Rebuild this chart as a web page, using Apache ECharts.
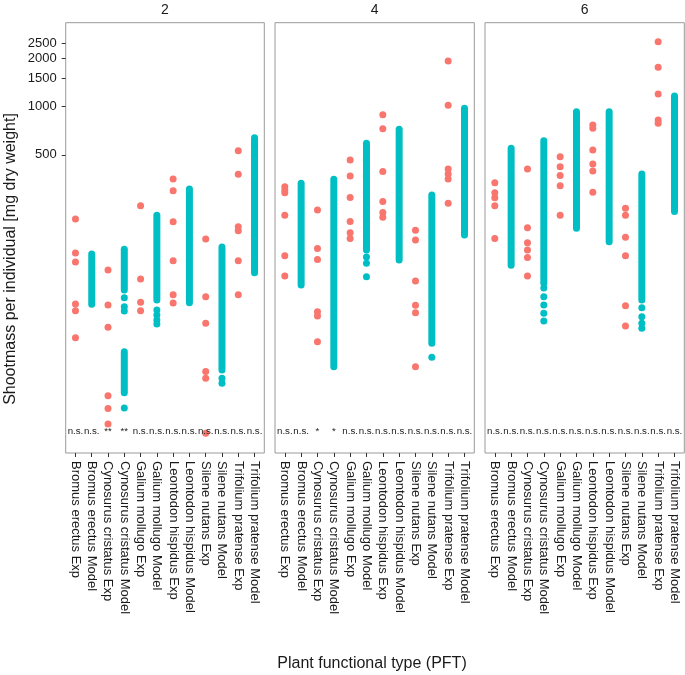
<!DOCTYPE html>
<html><head><meta charset="utf-8">
<script src="https://cdn.jsdelivr.net/npm/echarts@6/dist/echarts.min.js"></script>
<style>html,body{margin:0;padding:0;background:#fff}#c{width:685px;height:675px}</style>
</head><body><div id="c"></div>
<script>
// ---------- data ----------
const categories = [
  'Bromus erectus Exp','Bromus erectus Model',
  'Cynosurus cristatus Exp','Cynosurus cristatus Model',
  'Galium mollugo Exp','Galium mollugo Model',
  'Leontodon hispidus Exp','Leontodon hispidus Model',
  'Silene nutans Exp','Silene nutans Model',
  'Trifolium pratense Exp','Trifolium pratense Model'
];
const facetLabels = ['2','4','6'];
const yTickValues = [500, 1000, 1500, 2000, 2500];

// Experimental observations per species (Exp category), facet 2
const expF2 = [
  [199, 122, 107, 58.5, 53, 36],
  [95.3, 57.7, 41.8, 15.6, 13.0, 10.4],
  [240, 83.8, 59.9, 53.1],
  [353, 298, 191, 109, 66.8, 59.3],
  [149, 64.9, 44.3, 22.1, 20.1, 9.1],
  [531, 378, 178, 168, 109, 66.8]
];
// Model runs: dense ranges [low, high] and separate points, facet 2
const modelSegF2 = [
  [[58.2, 120]],
  [[71.5, 128.5], [16.3, 29.4]],
  [[61.9, 210]],
  [[59.6, 306]],
  [[22.6, 133]],
  [[91.7, 640]]
];
const modelDotsF2 = [[], [64, 56.2, 52.9, 13.1], [53.6, 49.9, 46.4, 43.8], [], [20.1, 18.7], []];
const annotF2 = ['n.s.','n.s.','**','**','n.s.','n.s.','n.s.','n.s.','n.s.','n.s.','n.s.','n.s.'];

// facet 4
const expF4 = [
  [316, 302, 290, 210, 117, 87.5],
  [226, 130, 111, 52.3, 49.2, 34],
  [464, 369, 271, 192, 163, 150],
  [891, 729, 393, 256, 218, 204],
  [169, 147, 81.4, 57.4, 51.6, 23.7],
  [1931, 1020, 408, 380, 353, 249]
];
const modelSegF4 = [
  [[76.9, 332]],
  [[23.7, 352]],
  [[127, 590]],
  [[110, 722]],
  [[33.2, 281]],
  [[158, 977]]
];
const modelDotsF4 = [[], [], [115, 105, 86.6], [], [27.2], []];
const annotF4 = ['n.s.','n.s.','*','*','n.s.','n.s.','n.s.','n.s.','n.s.','n.s.','n.s.','n.s.'];

// facet 6
const expF6 = [
  [335, 290, 270, 240, 150],
  [408, 175, 141, 127, 114, 87.5],
  [487, 422, 371, 321, 210],
  [769, 733, 537, 438, 396, 292],
  [232, 210, 153, 117, 57.1, 42.6],
  [2547, 1763, 1200, 826, 787]
];
const modelSegF6 = [
  [[102, 550]],
  [[78.8, 613]],
  [[174, 931]],
  [[143, 931]],
  [[61.9, 380]],
  [[221, 1166]]
];
const modelDotsF6 = [[], [73.6, 64.9, 57.7, 51.2, 45.8], [], [], [55.4, 48.7, 44.3, 41.2], []];
const annotF6 = ['n.s.','n.s.','n.s.','n.s.','n.s.','n.s.','n.s.','n.s.','n.s.','n.s.','n.s.','n.s.'];

const annotLevel = 9.4;

// ---------- chart ----------
const FONT = '"Liberation Sans", Arial, Helvetica, sans-serif';
const RED = '#F8766D', TEAL = '#00BFC4';
const catIdx = categories.map((c, i) => i);

const panels = [
  {left: 65.7, width: 198.6, exp: expF2, seg: modelSegF2, dots: modelDotsF2, ann: annotF2},
  {left: 275, width: 199.3, exp: expF4, seg: modelSegF4, dots: modelDotsF4, ann: annotF4},
  {left: 485, width: 199.3, exp: expF6, seg: modelSegF6, dots: modelDotsF6, ann: annotF6}
];
const TOP = 22.7, HEIGHT = 430.3;

const grid = [], xAxis = [], yAxis = [], series = [], graphic = [];
panels.forEach((p, i) => {
  grid.push({left: p.left, top: TOP, width: p.width, height: HEIGHT, show: true,
    borderColor: '#9a9a9a', borderWidth: 1, backgroundColor: '#fff', containLabel: false});
  xAxis.push({gridIndex: i, type: 'value', min: -0.6, max: 11.6, position: 'bottom',
    axisLine: {show: false, onZero: false}, splitLine: {show: false},
    axisTick: {show: true, inside: false, length: 4, customValues: catIdx, lineStyle: {color: '#333', width: 1}},
    axisLabel: {show: true, customValues: catIdx, rotate: -90, margin: 8, fontSize: 13,
      color: '#1a1a1a', fontFamily: FONT, formatter: v => categories[Math.round(v)]}
  });
  yAxis.push({gridIndex: i, type: 'log', logBase: 10, min: 6.85, max: 3350, position: 'left',
    axisLine: {show: false, onZero: false}, splitLine: {show: false},
    axisTick: {show: i === 0, inside: false, length: 4, customValues: yTickValues, lineStyle: {color: '#333', width: 1}},
    axisLabel: {show: i === 0, customValues: yTickValues, margin: 9, fontSize: 13,
      color: '#1a1a1a', fontFamily: FONT, formatter: v => String(Math.round(v))}
  });

  const expData = [];
  p.exp.forEach((vals, s) => vals.forEach(v => expData.push([2 * s, v])));
  const dotData = [];
  p.dots.forEach((vals, s) => vals.forEach(v => dotData.push([2 * s + 1, v])));
  const segData = [];
  p.seg.forEach((rs, s) => rs.forEach(r => segData.push([2 * s + 1, r[0], r[1]])));
  const annData = p.ann.map((t, k) => [k, annotLevel]);
  const annTexts = p.ann;

  series.push({type: 'custom', xAxisIndex: i, yAxisIndex: i, data: segData, silent: true, z: 2,
    encode: {x: 0, y: [1, 2]},
    renderItem: (params, api) => {
      const a = api.coord([api.value(0), api.value(1)]);
      const b = api.coord([api.value(0), api.value(2)]);
      return {type: 'line', shape: {x1: a[0], y1: a[1], x2: b[0], y2: b[1]},
        style: {stroke: TEAL, lineWidth: 7, lineCap: 'round'}};
    }
  });
  series.push({type: 'scatter', xAxisIndex: i, yAxisIndex: i, data: dotData, symbolSize: 7,
    itemStyle: {color: TEAL, opacity: 1}, silent: true, z: 3});
  series.push({type: 'scatter', xAxisIndex: i, yAxisIndex: i, data: expData, symbolSize: 7,
    itemStyle: {color: RED, opacity: 1}, silent: true, z: 3});
  series.push({type: 'custom', xAxisIndex: i, yAxisIndex: i, data: annData, silent: true, z: 4,
    encode: {x: 0, y: 1},
    renderItem: (params, api) => {
      const c = api.coord([api.value(0), api.value(1)]);
      return {type: 'text', x: c[0], y: c[1],
        style: {text: annTexts[params.dataIndex], align: 'center', verticalAlign: 'middle',
          fontSize: 9.7, fontFamily: FONT, fill: '#222'}};
    }
  });

  graphic.push({type: 'text', x: p.left + p.width / 2, y: 10,
    style: {text: facetLabels[i], align: 'center', verticalAlign: 'middle',
      fontSize: 14, fontFamily: FONT, fill: '#1a1a1a'}});
});

graphic.push({type: 'text', x: 11, y: 259, rotation: Math.PI / 2,
  style: {text: 'Shootmass per individual [mg dry weight]', align: 'center', verticalAlign: 'middle',
    fontSize: 16, fontFamily: FONT, fill: '#1a1a1a'}});
graphic.push({type: 'text', x: 372, y: 664,
  style: {text: 'Plant functional type (PFT)', align: 'center', verticalAlign: 'middle',
    fontSize: 16, fontFamily: FONT, fill: '#1a1a1a'}});

const chart = echarts.init(document.getElementById('c'), null, {renderer: 'canvas'});
chart.setOption({
  animation: false,
  backgroundColor: '#fff',
  grid, xAxis, yAxis, series, graphic
});
</script>
</body></html>
